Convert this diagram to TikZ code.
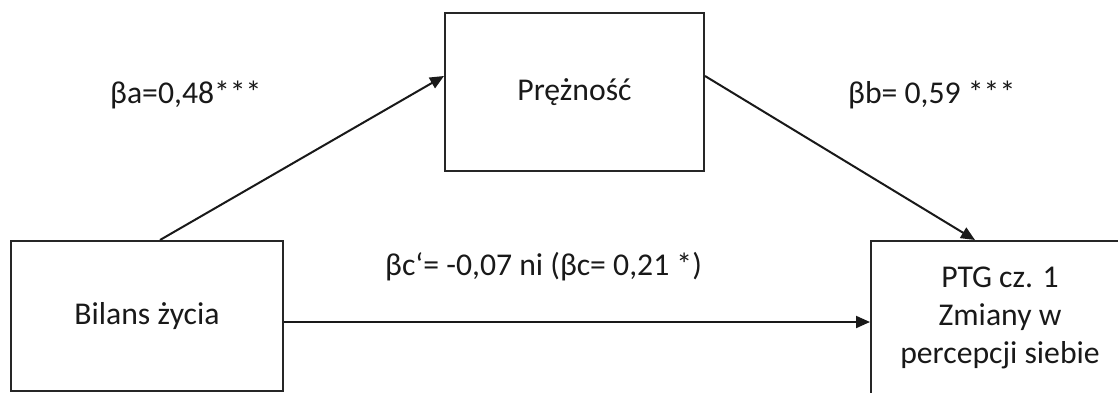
\documentclass[tikz,border=0pt]{standalone}
\usepackage{fontspec}
\setmainfont{Carlito}
\usetikzlibrary{arrows.meta}

\begin{document}
\begin{tikzpicture}[
    x=1pt,y=1pt,
    txt/.style={font=\fontsize{31.7}{38}\selectfont,text=black!90},
    box/.style={txt,rectangle,draw=black!85,line width=2pt,align=center,inner sep=0pt},
    arr/.style={line width=2pt,draw=black!90,-{Triangle[length=14pt,width=12pt]}},
    coef/.style={txt,anchor=base west,inner sep=0pt},
]
    \useasboundingbox (0,0) rectangle (1118,392);
    % Boxes
    \node[box,minimum width=272pt,minimum height=150pt] (bilans) at (147,76) {Bilans życia};
    \node[box,minimum width=259pt,minimum height=158pt] (preznosc) at (574.5,300) {Prężność};
    \node[box,minimum width=258pt,minimum height=154pt] (ptg) at (1000,74)
        {PTG cz. 1\\Zmiany w\\percepcji siebie};
    % Paths
    \draw[arr] ([xshift=13pt]bilans.north) -- ([yshift=16pt]preznosc.west);
    \draw[arr] ([yshift=16pt]preznosc.east) -- ([xshift=-25pt]ptg.north);
    \draw[arr] ([yshift=-6pt]bilans.east) -- ([yshift=-6pt]bilans.east -| ptg.west);
    % Coefficients
    \node[coef] (ba) at (110,289) {βa=0,48***};
    \node[coef] (bb) at (848,289) {βb= 0,59 ***};
    \node[coef] (bc) at (385,117) {βc‘= -0,07 ni (βc= 0,21 *)};
\end{tikzpicture}
\end{document}
